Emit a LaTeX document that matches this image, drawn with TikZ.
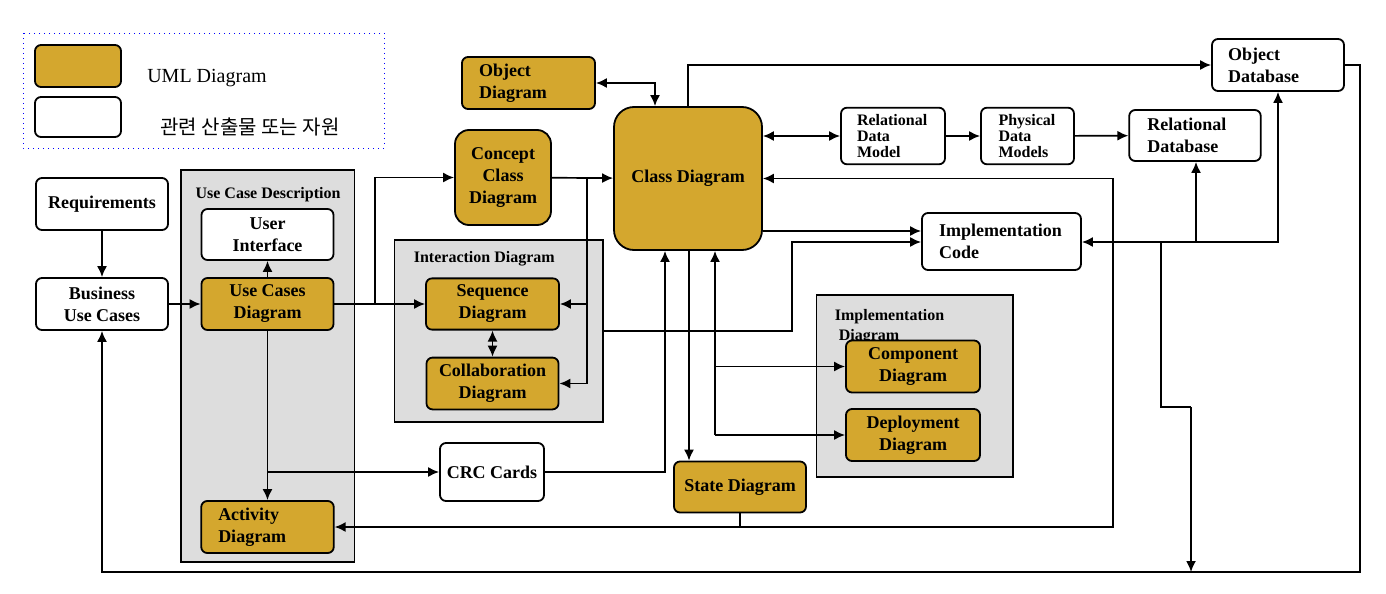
\documentclass[tikz,border=0pt]{standalone}
\usepackage{fontspec}
\setmainfont{Liberation Serif}
\newfontfamily\kofont{Noto Sans CJK KR}
\usetikzlibrary{arrows.meta,shapes.misc,positioning,calc}
\definecolor{umlgold}{RGB}{212,167,46}
\definecolor{boxgray}{RGB}{221,221,221}
\tikzset{
  uml/.style={
    % The shape:
    rectangle, rounded corners=3pt,
    % The border:
    draw=black, line width=0.9pt,
    % The filling:
    fill=umlgold,
    % Font
    font=\fontsize{9}{11}\selectfont\bfseries, align=center},
  res/.style={
    % The shape:
    rectangle, rounded corners=3pt,
    % The rest
    draw=black, line width=0.9pt, fill=white,
    font=\fontsize{9}{11}\selectfont\bfseries, align=center},
  small/.style={font=\fontsize{8}{8}\selectfont\bfseries},
  lefttext/.style 2 args={align=left, inner xsep=#1, text width=#2},
  group/.style={rectangle, draw=black, line width=0.9pt, fill=boxgray},
  grouptitle/.style={inner sep=0pt, font=\fontsize{8}{10}\selectfont\bfseries},
  arr/.tip={Latex[length=5.5pt,width=5pt]}
}
\tikzstyle{line} = [draw, -arr]

\begin{document}
\begin{tikzpicture}[x=0.5pt, y=-0.5pt, line width=0.85pt]
\useasboundingbox (0,0) rectangle (1386,594);
% Legend
\draw[blue, dotted, line width=0.5pt] (23,33) rectangle (384,148);
\node [uml, minimum width=43pt, minimum height=21pt] (legu) at (78,66) {};
\node [res, minimum width=43pt, minimum height=20pt] (legr) at (78,117) {};
\node [font=\fontsize{10}{12}\selectfont] (legutext) at (207,78) {UML Diagram};
\node [font=\fontsize{10}{12}\selectfont\kofont] (legrtext) at (250,127) {관련 산출물 또는 자원};
% Groups
\node [group, minimum width=86.75pt, minimum height=196pt] (ucdbox) at (267.75,366) {};
\node [group, minimum width=104.25pt, minimum height=91pt] (interact) at (498.75,331) {};
\node [group, minimum width=98.25pt, minimum height=91pt] (impldiag) at (914.75,386) {};
\node [grouptitle] (ucdtitle) at (268,195) {Use Case Description};
\node [grouptitle, anchor=west] (inttitle) at (413,259) {Interaction Diagram};
\node [grouptitle, anchor=north west, align=left] (impltitle) at (834,309) {Implementation\\\ Diagram};
% Nodes
\node [res, minimum width=66pt, minimum height=26pt] (req) at (102,204) {Requirements};
\node [res, minimum width=66pt, minimum height=26pt] (buc) at (102,304) {Business\\Use Cases};
\node [res, minimum width=66pt, minimum height=25.5pt] (ui) at (267.5,234.5) {User\\Interface};
\node [uml, minimum width=66pt, minimum height=26pt] (ucd) at (267.5,304) {Use Cases\\Diagram};
\node [uml, lefttext={8.5pt}{49.25pt}, minimum height=26pt] (act) at (267.5,527) {Activity\\Diagram};
\node [res, minimum width=52pt, minimum height=29pt] (crc) at (492,472) {CRC Cards};
\node [uml, minimum width=66.5pt, minimum height=25.5pt] (seq) at (492.5,304) {Sequence\\Diagram};
\node [uml, minimum width=66pt, minimum height=25.5pt] (coll) at (492.5,383.5) {Collaboration\\Diagram};
\node [uml, rounded corners=7pt, minimum width=48pt, minimum height=47.5pt] (concept) at (503,177.5) {Concept\\Class\\Diagram};
\node [uml, lefttext={8.5pt}{49.5pt}, minimum height=26pt] (objd) at (528.5,83) {Object\\Diagram};
\node [uml, rounded corners=10pt, minimum width=74pt, minimum height=71.5pt] (cls) at (688,178.5) {Class Diagram};
\node [uml, minimum width=66pt, minimum height=25.5pt] (state) at (740,487) {State Diagram};
\node [uml, minimum width=67pt, minimum height=26pt] (comp) at (913,366.5) {Component\\Diagram};
\node [uml, minimum width=67pt, minimum height=26pt] (depl) at (913,435) {Deployment\\Diagram};
\node [res, lefttext={8.5pt}{62.5pt}, minimum height=28.5pt] (impl) at (1001.5,241.5) {Implementation\\Code};
\node [res, small, lefttext={8pt}{36pt}, minimum height=28pt] (rdm) at (893,136) {Relational\\Data\\Model};
\node [res, small, lefttext={8.75pt}{29pt}, minimum height=28pt] (pdm) at (1027.5,136) {Physical\\Data\\Models};
\node [res, lefttext={9pt}{47.75pt}, minimum height=25.5pt] (reldb) at (1195,135.5) {Relational\\Database};
\node [res, lefttext={8pt}{50pt}, minimum height=26pt] (objdb) at (1278,65) {Object\\Database};
% Junctions
\coordinate (j1) at (375,304);
\coordinate (j2) at (587,178);
\coordinate (j3) at (792,331);
\coordinate (j4) at (1196,242);
\coordinate (j5) at (1161,242);
\coordinate (j6) at (1191,407);
\coordinate (j7) at (1191,572);
\coordinate (j8) at (1360,572);
\coordinate (j9) at (740,527);
\coordinate (j10) at (1113,527);
\coordinate (j11) at (715,435);
\coordinate (j12) at (267.5,472);
% Draw edges
\path [line] (req) -- (buc);
\path [line] (buc) -- (ucd);
\path [line] (ucd) -- (ui);
\path [line] (ucd) -- (seq);
\path [line] (j1) |- (concept.west);
\path [line] (concept) -- (cls);
\path [line] (j2) |- (seq.east);
\path [line] (j2) |- (coll.east);
\path [line, arr-arr] (seq) -- (coll);
\path [line, arr-arr] (objd.east) -| ($(cls.north)+(-33,0)$);
\path [line] (cls.north) |- (objdb.west);
\path [line, arr-arr] (cls.east |- rdm) -- (rdm);
\path [line] (rdm) -- (pdm);
\path [line] (pdm) -- (reldb);
\path [line] ($(cls.east)+(0,52.5)$) -- ($(impl.west)+(0,-10.5)$);
\path [line] (interact.east) -- (j3) |- ($(impl.west)+(0,0.5)$);
\path [line, arr-arr] ($(impl.east)+(0,0.5)$) -| (objdb.south);
\path [line] (j4) -- (j4 |- reldb.south);
\draw (j5) |- (j6);
\path [line] (j6) -- (j7);
\path [line] (objdb.east) -| (j8) -| (buc.south);
\path [line] (state.south) |- (act.east);
\path [line] (j9) -- (j10) |- (cls.east);
\path [line] ($(cls.south)+(1,0)$) -- ($(state.north)+(-51,0)$);
\path [line] (crc.east) -| ($(cls.south)+(-23,0)$);
\path [line] (j11) -- ($(cls.south)+(27,0)$);
\path [line] (j11 |- comp.west) -- (comp.west);
\path [line] (j11) -- (depl.west);
\path [line] (ucd) -- (act);
\path [line] (j12) -- (crc.west);
\end{tikzpicture}
\end{document}
